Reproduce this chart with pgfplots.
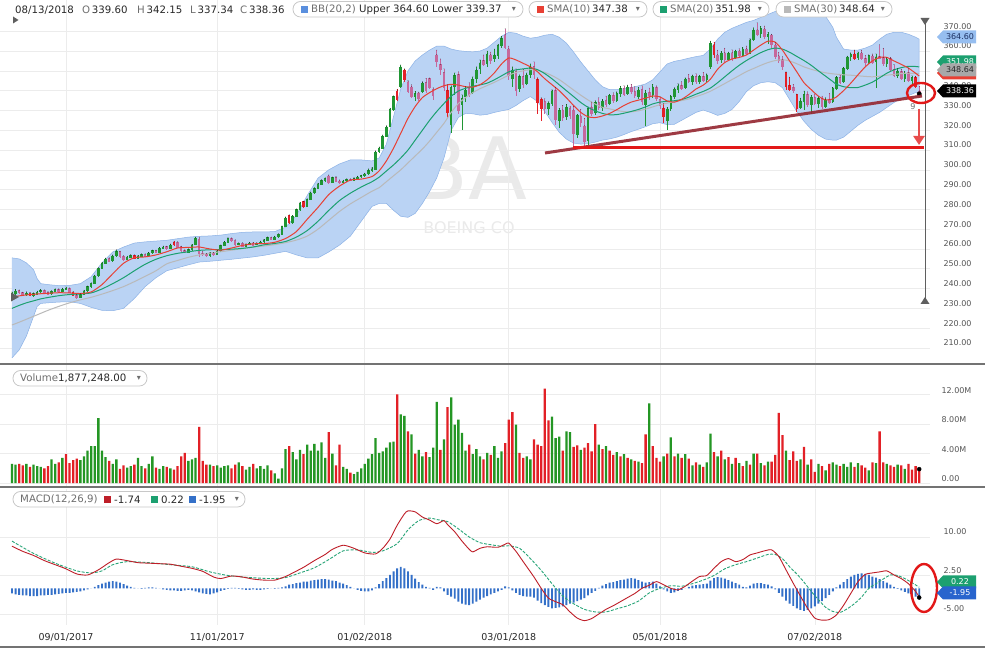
\documentclass[border=0pt]{standalone}
\usepackage{fontspec}
\setmainfont{DejaVu Sans}
\usepackage{pgfplots}
\pgfplotsset{compat=1.18}
\usepackage{pgfplotstable}
\usetikzlibrary{arrows.meta}

\definecolor{cgreen}{RGB}{32,150,52}
\definecolor{cpink}{RGB}{198,104,156}
\definecolor{cred}{RGB}{228,32,40}
\definecolor{vgreen}{RGB}{36,150,36}
\definecolor{vred}{RGB}{226,32,38}
\definecolor{bandfill}{RGB}{186,211,244}
\definecolor{bandedge}{RGB}{140,178,230}
\definecolor{smaA}{RGB}{232,64,52}
\definecolor{smaB}{RGB}{28,160,112}
\definecolor{smaC}{RGB}{185,185,185}
\definecolor{macdred}{RGB}{190,30,40}
\definecolor{macdsig}{RGB}{40,165,120}
\definecolor{histblue}{RGB}{52,112,200}
\definecolor{gridc}{RGB}{236,236,236}
\definecolor{tickc}{RGB}{85,85,85}
\definecolor{sepc}{RGB}{115,115,115}
\definecolor{labc}{RGB}{110,110,110}
\definecolor{valc}{RGB}{40,40,40}
\definecolor{pillb}{RGB}{200,200,200}
\definecolor{wmark}{RGB}{234,234,234}
\definecolor{annred}{RGB}{226,24,24}
\definecolor{arrred}{RGB}{232,76,76}
\definecolor{trend}{RGB}{150,42,52}
\definecolor{taggray}{RGB}{168,168,168}
\definecolor{tagblue}{RGB}{150,190,240}
\definecolor{tagbluetext}{RGB}{30,50,100}
\definecolor{macdblue}{RGB}{40,100,205}
\definecolor{bbsq}{RGB}{90,143,222}
\definecolor{markg}{RGB}{95,95,95}

\pgfplotstableread{
i o h l c k v vk hist
0 236.6 238.3 235.9 237.4 0 2.6 0 -1.0
1 237.5 239.6 237.0 238.6 0 2.5 0 -1.2
2 238.8 239.3 237.4 237.9 1 2.6 1 -1.3
3 237.8 238.2 236.2 236.8 1 2.4 1 -1.4
4 236.9 238.4 236.4 237.5 0 2.6 0 -1.4
5 237.6 238.0 236.0 236.6 2 2.2 1 -1.5
6 236.5 237.9 235.9 237.3 0 2.5 0 -1.5
7 237.2 238.7 236.8 238.2 0 2.3 0 -1.5
8 238.3 239.6 237.8 238.9 0 2.2 0 -1.4
9 239.0 239.3 237.6 238.0 1 2.0 1 -1.4
10 237.9 238.4 236.6 237.2 1 2.3 1 -1.3
11 237.3 239.0 236.9 238.5 0 3.2 0 -1.3
12 238.6 240.0 238.2 239.3 0 2.6 0 -1.2
13 239.4 239.9 238.2 238.7 1 2.8 1 -1.1
14 238.6 240.2 238.3 239.6 0 3.4 0 -1.0
15 239.7 240.8 239.1 239.9 0 3.9 1 -0.9
16 240.0 240.3 237.6 238.2 1 2.7 1 -0.9
17 238.1 238.5 236.0 236.6 2 3.1 1 -0.8
18 236.5 237.0 234.8 235.4 1 3.3 1 -0.7
19 235.5 237.4 235.1 236.9 0 3.1 0 -0.6
20 237.0 239.2 236.6 238.7 0 3.6 0 -0.4
21 238.8 241.3 238.4 240.8 0 4.4 0 -0.2
22 240.9 243.0 240.5 242.5 0 5.0 0 0.0
23 242.6 246.8 242.2 246.2 0 5.0 0 0.3
24 246.4 250.6 246.0 250.1 0 8.8 0 0.6
25 250.3 253.2 249.8 252.6 0 4.4 0 0.9
26 252.7 255.4 252.2 254.8 0 3.5 0 1.1
27 255.0 255.6 253.2 253.9 1 3.0 1 1.3
28 254.0 257.0 253.6 256.4 0 2.6 0 1.4
29 256.5 259.6 256.1 258.6 0 3.2 0 1.3
30 258.5 258.9 255.6 256.1 1 1.9 1 1.1
31 256.2 256.6 254.1 254.7 1 2.4 1 0.8
32 254.8 256.4 254.3 255.8 0 2.1 0 0.5
33 255.9 257.2 255.4 256.6 0 2.3 0 0.3
34 256.7 257.0 254.7 255.2 2 2.5 1 0.1
35 255.3 256.8 254.9 256.3 0 3.4 0 0.0
36 256.4 257.6 256.0 257.1 0 2.3 0 -0.1
37 257.2 257.5 255.9 256.4 1 2.0 1 0.1
38 256.5 258.3 256.1 257.9 0 2.6 0 0.2
39 258.0 259.5 257.6 259.0 0 3.6 0 0.2
40 259.1 259.4 257.8 258.2 1 2.1 1 0.1
41 258.3 260.8 258.0 260.3 0 1.9 0 0.0
42 260.4 261.5 259.8 261.0 0 2.3 0 -0.2
43 261.1 261.4 259.6 260.1 1 2.2 1 -0.3
44 260.2 262.5 259.9 262.0 0 2.0 0 -0.4
45 262.1 264.0 261.7 263.2 2 1.8 1 -0.4
46 263.3 263.6 260.6 261.0 1 2.3 1 -0.5
47 261.1 261.4 258.6 259.1 1 3.6 1 -0.5
48 259.0 259.6 257.8 258.3 1 4.1 1 -0.4
49 258.4 260.1 258.0 259.5 0 3.0 0 -0.3
50 259.6 262.3 259.2 261.8 0 3.2 0 -0.4
51 262.5 266.0 262.0 265.3 0 3.4 0 -0.6
52 264.8 266.0 256.2 257.6 1 7.6 1 -0.8
53 257.7 258.9 256.6 257.2 1 3.0 1 -1.0
54 257.3 257.8 255.8 256.5 1 2.5 1 -1.1
55 256.6 258.3 256.2 257.8 0 2.5 0 -1.2
56 257.9 258.2 256.6 257.1 1 2.3 1 -1.0
57 257.2 259.3 256.9 258.9 0 2.4 0 -0.8
58 259.0 262.1 258.7 261.6 0 2.1 0 -0.5
59 261.7 263.9 261.3 263.4 0 2.3 0 -0.3
60 263.5 265.7 263.1 265.1 0 2.4 0 -0.1
61 265.2 265.6 263.6 264.2 1 2.0 1 0.1
62 264.3 264.6 261.6 262.1 1 2.5 1 0.1
63 262.2 263.2 261.8 262.7 0 2.8 0 -0.1
64 262.8 263.1 260.9 261.4 1 2.3 1 -0.2
65 261.5 262.7 261.1 262.2 0 1.8 0 -0.3
66 262.3 263.4 261.9 262.9 0 2.2 0 -0.3
67 263.0 263.3 261.6 262.0 1 2.6 1 -0.2
68 262.1 263.2 261.8 262.8 0 2.0 0 -0.3
69 262.9 264.0 262.5 263.5 0 2.3 0 -0.3
70 263.6 264.8 263.2 264.3 0 1.9 0 -0.2
71 264.4 266.1 264.0 265.6 0 2.4 0 -0.1
72 265.7 266.0 264.4 264.9 1 1.7 1 0.0
73 265.0 266.5 264.6 266.0 0 1.3 0 -0.1
74 266.1 267.8 265.7 267.3 0 0.6 0 0.1
75 267.4 271.7 267.0 271.2 0 2.0 0 0.2
76 271.3 276.2 270.9 275.6 0 4.6 0 0.4
77 276.8 277.4 272.4 273.2 2 5.0 1 0.7
78 273.3 277.0 272.8 276.4 0 4.2 0 0.8
79 276.5 280.3 276.1 279.7 0 3.2 0 1.0
80 279.8 283.7 279.4 283.0 0 4.5 0 1.1
81 283.8 284.2 280.8 281.4 2 3.9 1 1.3
82 281.5 285.4 281.0 284.8 0 5.2 0 1.3
83 284.9 288.8 284.5 288.2 0 4.4 0 1.5
84 288.3 291.0 287.9 290.4 0 5.3 0 1.6
85 290.5 293.3 290.1 292.7 0 4.4 0 1.7
86 292.8 295.1 292.3 294.5 0 5.5 0 1.8
87 294.6 296.0 294.0 295.4 0 3.4 0 1.8
88 296.8 297.4 293.0 293.5 1 6.9 1 1.7
89 293.6 296.4 293.2 295.9 0 4.0 0 1.5
90 296.0 296.5 293.6 294.1 1 2.4 1 1.4
91 294.2 294.9 292.9 293.4 1 5.2 1 1.1
92 293.5 294.8 293.0 294.3 0 2.2 0 0.9
93 294.4 295.5 294.0 295.0 0 1.9 0 0.6
94 295.1 295.4 294.1 294.6 1 1.4 1 0.3
95 294.7 296.0 294.3 295.5 0 1.2 0 0.0
96 295.6 296.8 295.2 296.3 0 1.5 0 -0.3
97 296.4 297.3 296.0 296.9 0 2.0 0 -0.5
98 297.0 298.3 296.6 297.8 0 2.6 0 -0.6
99 297.9 300.5 297.5 299.6 0 3.3 0 -0.6
100 299.8 301.2 299.0 300.4 0 3.9 0 -0.4
101 300.4 309.6 300.0 309.0 0 6.1 0 0.2
102 309.2 311.6 308.4 310.9 0 4.1 0 0.8
103 311.0 317.6 310.6 316.8 0 4.3 0 1.4
104 317.0 322.3 316.4 321.6 0 4.8 0 2.0
105 322.0 331.2 321.6 330.4 0 5.5 0 2.6
106 330.6 337.4 329.8 336.8 0 5.6 0 3.3
107 339.8 340.6 334.6 335.6 2 12.0 1 3.9
108 342.0 353.0 341.2 351.8 0 9.3 0 4.2
109 350.4 351.0 344.6 345.6 2 9.1 0 3.9
110 344.2 345.0 338.6 339.8 1 7.0 1 3.3
111 341.8 343.0 336.4 337.2 1 6.6 0 2.6
112 337.0 339.6 334.6 338.4 0 4.0 1 1.9
113 338.6 339.2 335.0 336.0 1 4.5 0 1.2
114 339.5 344.6 338.8 343.8 0 3.6 0 0.7
115 344.0 346.2 339.0 340.2 1 4.2 1 0.3
116 346.0 346.4 340.6 341.4 1 3.5 0 0.1
117 340.6 341.5 335.2 337.4 1 4.8 0 -0.3
118 358.0 360.5 352.0 354.5 1 11.0 0 0.3
119 353.0 356.0 348.0 350.5 1 4.5 1 0.2
120 349.0 351.0 340.0 341.5 1 5.9 0 -0.6
121 340.0 343.0 326.0 329.0 2 10.3 1 -1.3
122 323.0 342.5 318.5 341.5 0 11.6 0 -1.6
123 342.0 349.0 338.0 347.5 0 7.9 0 -2.0
124 348.0 349.5 328.0 330.0 1 8.6 0 -2.6
125 333.0 338.0 320.0 336.0 0 6.8 0 -3.0
126 337.0 342.0 334.5 340.2 0 4.4 0 -3.2
127 341.0 344.0 337.0 338.2 1 5.2 1 -3.3
128 339.0 347.0 338.5 345.6 0 3.9 0 -3.0
129 346.0 352.0 344.0 350.3 0 4.6 0 -2.6
130 351.0 355.5 348.5 353.8 0 3.6 0 -2.2
131 355.0 358.0 352.5 353.0 1 3.2 1 -1.8
132 353.5 360.0 352.0 358.4 0 4.1 0 -1.5
133 358.0 359.5 353.5 355.2 1 3.8 1 -1.2
134 356.0 361.0 354.5 357.8 0 5.0 0 -0.9
135 358.0 363.5 356.2 362.7 0 3.4 0 -0.6
136 363.0 367.5 361.5 366.2 0 4.3 0 -0.3
137 368.0 371.3 360.8 362.0 1 5.4 1 0.4
138 361.0 362.5 345.5 347.8 1 8.6 1 0.2
139 346.0 352.0 342.0 350.4 0 9.6 1 -0.4
140 349.5 351.0 337.5 340.0 1 7.9 0 -0.9
141 341.0 348.0 339.5 346.9 0 4.1 1 -1.3
142 347.0 350.8 341.5 343.2 1 3.4 1 -1.5
143 343.5 349.0 342.6 347.9 0 3.6 0 -1.6
144 348.0 353.5 346.2 351.8 0 3.2 0 -1.6
145 352.0 354.5 346.0 348.4 1 5.9 1 -1.8
146 345.5 346.5 328.0 334.2 2 5.2 1 -2.4
147 331.0 336.5 324.5 335.5 2 5.0 1 -2.9
148 334.5 336.0 328.0 331.2 1 12.8 1 -3.3
149 331.0 334.5 327.5 333.4 0 8.5 1 -3.6
150 333.5 340.5 332.0 339.8 0 9.0 0 -3.9
151 340.0 341.5 322.5 325.4 1 6.1 0 -3.8
152 325.0 331.0 321.0 329.8 0 6.3 0 -3.7
153 330.0 332.5 324.5 326.3 1 4.4 1 -3.5
154 327.0 333.0 325.0 331.5 0 7.0 0 -3.3
155 331.0 332.2 325.8 327.6 1 6.9 0 -3.0
156 330.0 332.0 311.5 318.2 1 4.9 1 -2.8
157 318.0 328.0 316.0 327.5 0 5.1 1 -2.5
158 327.0 330.5 321.5 323.8 1 4.5 0 -2.2
159 322.0 326.0 311.2 314.5 1 4.8 1 -1.9
160 315.0 331.8 312.5 330.8 0 5.4 1 -1.4
161 331.5 334.2 327.0 328.4 1 4.3 1 -0.9
162 329.0 335.0 327.8 333.8 0 8.0 1 -0.5
163 334.0 336.5 330.4 331.5 1 5.2 0 0.1
164 331.5 335.6 329.5 334.7 0 4.6 1 0.5
165 335.0 337.2 331.8 333.2 1 5.0 0 0.8
166 333.5 338.2 332.5 337.5 0 4.4 1 1.1
167 337.5 339.0 333.6 335.0 1 3.8 1 1.2
168 335.0 339.5 334.2 338.6 0 4.2 0 1.4
169 338.5 342.2 336.8 340.9 0 3.6 1 1.6
170 341.0 342.5 337.5 338.2 1 3.9 0 1.7
171 338.5 342.8 337.6 341.7 0 3.4 1 1.9
172 341.5 343.2 338.4 339.5 1 3.2 0 2.0
173 339.5 342.0 336.2 337.4 1 3.0 1 1.9
174 337.0 341.6 335.8 340.2 0 2.9 0 1.6
175 340.5 342.5 332.5 334.5 1 2.7 1 1.3
176 333.0 340.2 322.0 338.8 0 6.6 1 1.1
177 339.0 341.3 335.5 337.3 1 10.8 0 1.2
178 338.0 343.2 336.5 341.7 0 5.0 1 1.3
179 341.5 342.4 334.8 336.0 1 3.4 1 0.9
180 335.5 337.0 330.5 332.4 1 2.9 1 0.4
181 331.0 333.5 323.5 326.8 2 3.6 0 -0.2
182 325.0 331.5 320.2 330.6 0 4.0 1 -0.6
183 331.0 337.6 329.8 336.9 0 6.2 0 -0.9
184 337.0 341.5 335.6 340.8 0 3.6 1 -0.8
185 340.5 343.5 338.8 342.3 0 4.0 0 -0.5
186 342.5 344.6 340.2 341.2 1 3.4 1 -0.3
187 341.5 346.5 340.8 345.8 0 3.9 0 0.0
188 346.0 348.2 343.8 344.4 1 3.3 1 0.3
189 344.5 347.9 342.6 347.2 0 2.4 0 0.5
190 347.0 348.6 343.5 344.6 1 2.8 1 0.6
191 344.5 347.8 343.2 346.9 0 2.5 0 0.7
192 347.0 349.2 344.5 345.3 1 2.2 1 0.8
193 345.5 348.6 344.2 347.8 0 2.8 0 0.9
194 352.0 365.0 351.0 363.8 0 6.7 0 1.5
195 363.0 364.5 356.5 358.2 2 4.2 1 2.0
196 358.0 360.4 353.6 355.0 1 3.6 0 2.2
197 355.5 359.8 354.2 358.9 0 4.4 1 2.1
198 359.0 361.4 354.6 355.6 1 3.2 0 1.9
199 355.5 359.5 354.8 358.8 0 3.5 1 1.6
200 359.0 360.6 355.2 356.4 1 2.6 0 1.3
201 356.5 360.5 355.8 359.8 0 3.4 1 1.0
202 360.0 361.2 356.5 357.6 1 2.7 0 0.7
203 357.5 361.8 356.8 360.9 0 2.3 1 0.3
204 361.0 362.5 357.8 358.6 1 3.0 0 0.2
205 359.0 366.2 358.5 365.5 0 2.5 1 0.5
206 366.0 371.8 365.2 370.4 0 4.0 0 0.9
207 370.5 374.3 367.5 368.4 1 4.0 1 1.0
208 368.8 372.5 366.8 371.2 0 2.7 0 1.0
209 371.0 372.6 366.2 367.1 1 2.4 1 0.8
210 367.5 369.4 363.8 368.3 0 2.9 0 0.7
211 368.0 368.5 361.5 363.2 1 2.9 1 0.4
212 363.0 364.2 355.8 357.4 1 3.8 1 -0.2
213 357.5 359.4 353.8 355.1 1 9.5 1 -0.9
214 355.5 357.2 350.6 352.3 1 6.5 1 -1.6
215 349.0 349.5 340.2 342.0 2 4.4 0 -2.4
216 342.5 346.8 339.8 340.8 2 3.1 1 -3.0
217 341.5 343.2 338.8 340.0 1 4.3 1 -3.4
218 338.0 338.2 329.2 331.0 2 3.0 1 -3.9
219 331.5 336.2 330.6 334.6 0 3.2 0 -4.2
220 334.5 339.8 330.0 337.9 0 4.9 1 -4.4
221 338.0 339.4 331.8 332.8 1 2.5 0 -4.2
222 333.0 337.6 328.2 336.5 0 3.2 1 -3.9
223 336.5 338.3 332.5 333.6 1 1.5 1 -3.5
224 333.5 336.8 331.4 335.8 0 2.6 0 -3.0
225 336.0 337.2 330.8 332.1 1 2.3 1 -2.5
226 332.0 336.5 331.2 335.2 0 1.7 0 -1.9
227 335.5 338.6 333.2 334.0 1 2.6 1 -1.3
228 334.5 341.6 333.8 341.2 0 2.8 0 -0.6
229 341.0 347.2 340.5 346.5 0 2.5 0 0.2
230 346.5 347.8 343.2 344.3 1 2.3 1 0.7
231 344.5 351.8 344.0 351.2 0 2.6 0 1.2
232 351.0 357.4 350.5 356.8 0 2.2 0 1.8
233 357.0 359.2 355.2 358.3 0 2.8 0 2.3
234 358.5 360.5 355.6 356.2 2 2.2 1 2.6
235 356.5 359.6 355.5 358.8 0 2.7 0 2.8
236 359.0 360.4 355.3 356.0 1 2.4 1 2.9
237 356.0 357.8 352.6 354.1 1 2.1 1 2.8
238 354.0 358.2 353.3 357.6 0 1.7 0 2.6
239 357.5 358.5 353.4 354.3 1 2.8 1 2.3
240 354.5 358.6 341.2 356.8 0 2.7 0 2.1
241 357.0 363.2 355.8 356.4 1 7.0 1 1.8
242 356.5 361.4 352.2 353.6 1 2.8 1 1.4
243 353.5 356.8 351.8 355.9 0 2.6 0 1.1
244 356.0 356.8 349.6 350.8 1 2.4 1 0.7
245 350.5 353.2 346.8 347.6 1 2.2 1 0.3
246 347.5 351.2 346.4 349.8 0 2.5 0 -0.1
247 349.5 350.8 345.2 346.1 1 2.4 1 -0.4
248 346.0 349.8 344.6 348.7 0 1.9 0 -0.7
249 349.0 351.4 344.5 345.2 1 2.6 1 -1.0
250 345.0 347.6 343.4 346.5 0 1.8 1 -1.3
251 346.5 347.2 341.4 342.3 2 2.3 1 -1.6
252 339.6 342.15 337.34 338.36 1 1.88 1 -1.95
}\data

\pgfplotstableread{
i s10 s20 s30
0 235.8 230.0 221.6
2 236.3 231.5 223.0
4 236.8 232.8 224.5
6 237.1 233.8 226.0
8 237.4 234.8 227.5
10 237.6 235.5 229.0
13 237.9 236.4 231.0
16 237.8 237.0 232.8
19 237.5 237.3 234.3
22 238.3 237.8 235.6
25 242.0 239.8 237.2
28 247.5 242.5 239.0
31 252.8 245.5 241.0
34 255.6 249.0 243.5
37 256.0 252.3 246.2
40 257.0 254.8 249.0
43 258.6 256.6 252.5
46 260.5 257.8 254.2
49 260.8 258.6 255.8
52 261.0 259.3 257.0
55 260.0 259.6 257.9
58 259.4 259.7 258.6
61 260.5 259.9 259.4
64 261.8 260.3 260.2
67 262.6 261.0 261.0
70 262.7 262.1 261.5
73 263.4 262.8 262.2
76 265.3 263.8 263.2
79 268.8 266.0 264.5
82 275.0 269.3 266.5
85 281.0 274.0 270.0
88 287.5 279.5 274.5
91 291.8 284.5 279.0
94 294.8 288.2 282.8
97 295.3 291.3 286.0
100 296.6 294.0 289.2
102 299.5 296.3 291.0
104 304.5 299.4 294.0
106 311.0 302.5 297.0
108 318.5 306.0 300.0
110 326.0 310.0 303.5
112 332.0 315.0 307.0
114 336.5 320.0 310.5
116 339.0 325.0 314.5
118 341.0 329.5 319.0
120 342.5 333.5 323.5
122 343.2 337.2 329.0
124 342.8 339.8 333.5
126 342.0 341.2 336.5
128 341.8 342.2 339.0
130 343.0 342.9 341.0
132 345.5 343.8 342.6
134 349.0 345.5 344.2
136 353.5 347.5 346.0
138 356.5 349.5 347.8
140 355.5 350.5 349.2
142 353.8 351.0 350.0
144 352.0 351.4 350.6
146 349.5 350.6 350.2
148 346.0 348.6 349.2
150 343.0 346.0 347.6
152 340.0 343.0 345.6
154 336.4 340.0 343.0
156 332.5 337.0 340.3
158 329.0 334.0 337.7
160 326.8 331.6 335.3
162 326.4 329.8 333.2
164 327.2 328.5 331.6
166 328.5 327.8 330.8
168 330.4 327.9 330.0
170 332.5 328.6 329.4
172 334.2 329.5 329.3
174 335.2 330.5 329.8
176 336.2 331.8 330.7
178 337.3 333.3 331.8
180 336.8 334.2 332.9
182 334.8 334.6 333.7
184 334.2 334.9 334.4
186 335.6 335.5 335.0
188 338.0 336.7 335.8
190 340.8 338.2 337.0
192 342.8 339.6 338.2
194 345.8 341.3 339.7
196 350.8 344.0 341.6
198 354.2 347.0 343.6
200 356.0 350.0 345.6
202 356.8 352.8 347.6
204 358.0 355.2 349.6
206 360.5 357.3 351.2
208 363.0 359.2 352.8
210 365.0 360.7 354.2
212 364.5 361.5 355.2
214 360.5 361.0 355.6
216 355.0 359.4 355.0
218 349.5 357.3 353.6
220 344.0 355.2 352.0
222 340.5 352.8 350.8
224 337.2 350.0 349.8
226 335.3 347.3 349.0
228 335.8 344.6 348.5
229 336.8 343.2 348.3
231 340.0 342.0 348.0
233 343.8 341.5 347.8
235 348.0 341.6 347.5
237 352.0 342.8 347.2
239 355.0 344.3 347.0
241 356.8 346.5 347.3
243 356.8 348.8 347.8
245 355.0 350.5 348.2
247 353.3 351.6 348.6
249 351.4 352.3 348.8
251 348.8 352.2 348.7
252 347.38 351.98 348.64
}\ma

% Bollinger band outline: upper edge left to right, then lower edge right to left
\pgfplotstableread{
i b
0 255.5
2 255.0
4 253.0
6 249.5
7 245.0
8 242.5
10 242.0
13 241.5
16 241.6
19 242.5
22 246.0
25 253.0
28 258.5
31 261.0
34 263.0
37 263.6
40 264.0
43 264.4
46 265.2
49 266.0
52 266.4
55 266.6
58 267.0
61 267.8
64 268.4
67 268.6
70 268.6
73 268.8
76 271.0
79 277.0
82 287.0
85 295.8
88 300.0
91 303.0
94 305.0
97 305.0
100 304.5
102 306.0
104 313.0
106 327.0
108 341.0
110 350.0
112 355.0
114 358.0
116 360.5
118 362.5
120 362.5
122 361.0
124 360.2
126 359.8
128 359.6
130 360.0
132 361.5
134 364.5
136 367.5
138 369.5
140 369.0
142 367.5
144 366.5
146 367.0
148 368.0
150 368.5
152 367.0
154 364.0
156 359.5
158 354.5
160 350.0
162 345.5
164 342.0
166 340.5
168 340.5
170 341.0
172 341.6
174 342.4
176 343.4
178 345.5
180 349.5
182 353.5
184 354.8
186 355.5
188 356.4
190 357.2
192 357.8
194 361.0
196 366.0
198 369.5
200 371.5
202 373.0
204 374.5
206 375.5
208 377.0
210 378.5
212 380.0
214 381.0
216 381.5
218 381.5
220 381.5
222 381.0
224 380.0
226 377.5
228 372.0
229 367.0
231 361.0
233 360.5
235 360.5
237 361.5
239 363.0
241 366.0
243 368.5
245 369.5
247 369.5
249 368.5
251 367.0
252 366.0
252 339.37
251 339.0
249 337.5
247 336.0
245 334.0
243 331.5
241 329.0
239 327.0
237 325.0
235 322.5
233 319.5
231 316.5
229 315.0
228 315.0
226 315.5
224 317.5
222 320.5
220 324.5
218 329.5
216 335.5
214 341.5
212 344.0
210 344.5
208 344.0
206 342.5
204 339.5
202 334.5
200 330.5
198 328.5
196 327.5
194 329.0
192 330.2
190 329.0
188 327.0
186 325.0
184 323.0
182 322.8
180 323.8
178 323.3
176 321.8
174 320.5
172 319.3
170 317.8
168 316.5
166 315.6
164 315.0
162 314.0
160 313.2
158 313.0
156 313.5
154 315.5
152 319.0
150 324.0
148 329.5
146 334.5
144 337.0
142 335.0
140 332.5
138 330.5
136 329.8
134 329.0
132 328.0
130 327.6
128 328.3
126 328.5
124 326.5
122 320.0
120 306.0
118 296.0
116 289.0
114 283.0
112 278.0
110 276.0
108 276.5
106 279.5
104 283.0
102 283.0
100 281.5
97 274.0
94 266.5
91 262.0
88 258.5
85 255.5
82 255.5
79 257.0
76 258.8
73 257.8
70 256.8
67 256.0
64 255.4
61 254.8
58 254.3
55 253.8
52 253.4
49 252.0
46 250.5
43 249.0
40 245.5
37 241.0
34 235.0
31 230.0
28 228.8
25 229.0
22 230.5
19 232.5
16 233.3
13 233.2
10 232.8
8 232.5
7 231.0
6 226.0
4 216.0
2 209.0
0 205.0
}\band

\pgfplotstableread{
i m
0 8.2
3 7.2
6 6.4
9 5.4
12 4.6
15 3.8
18 2.8
21 2.6
24 3.6
27 5.0
29 5.7
32 5.4
35 5.0
38 4.9
41 4.8
44 4.7
47 4.3
50 3.9
53 3.3
56 2.2
58 1.9
61 2.4
64 2.2
67 1.8
70 1.6
73 1.6
76 2.3
78 3.0
81 4.1
84 5.4
87 6.6
89 7.6
92 8.4
95 7.8
98 6.9
101 6.7
103 7.8
105 9.6
107 12.3
109 14.5
110 15.1
112 14.9
114 13.9
116 13.3
118 12.6
120 13.2
121 12.4
123 11.0
125 9.2
127 7.6
128 7.1
130 7.8
132 8.1
135 8.0
137 8.6
138 8.8
140 7.2
142 5.2
145 2.2
147 0.0
149 -1.9
151 -2.6
153 -3.2
155 -4.6
157 -5.8
159 -6.3
161 -5.9
163 -5.0
165 -4.1
167 -3.4
169 -2.6
171 -1.8
173 -1.0
175 0.0
177 0.6
179 1.3
181 0.7
183 0.0
185 -0.3
187 0.4
189 1.4
191 2.3
193 2.5
195 3.9
197 5.2
199 5.8
201 5.2
203 5.6
205 6.5
207 6.9
209 7.3
211 7.5
213 6.2
215 3.6
217 1.0
219 -1.5
221 -3.9
223 -5.8
225 -6.2
227 -6.1
229 -5.2
231 -3.3
233 -1.0
235 1.3
237 2.7
239 3.0
241 3.2
243 3.4
245 2.6
247 1.9
249 0.9
251 -0.6
252 -1.74
}\macd

\pgfplotstableread{
i s
0 9.2
6 6.8
12 4.9
18 3.4
22 3.0
25 3.4
28 4.6
32 5.2
38 5.0
44 4.6
50 4.2
55 3.2
60 2.5
66 2.1
72 1.9
76 2.1
80 3.0
84 4.0
88 5.6
92 7.3
96 7.5
100 7.0
103 7.3
107 8.7
110 11.4
113 13.2
116 13.7
118 13.4
121 13.0
124 11.6
127 10.0
130 8.9
133 8.5
136 8.2
138 8.3
141 7.8
144 5.8
147 3.5
150 0.9
153 -1.5
156 -3.0
159 -4.1
162 -4.6
165 -4.6
168 -4.0
171 -3.4
174 -2.5
177 -0.9
180 0.0
183 0.5
186 0.4
189 0.9
192 1.6
195 2.5
198 3.8
201 4.6
204 5.2
207 5.9
210 6.6
212 6.6
214 5.8
216 4.2
218 2.8
220 1.2
222 -0.6
224 -2.2
226 -3.7
228 -4.5
230 -4.7
232 -4.0
234 -3.0
236 -1.7
238 0.0
240 0.9
242 1.8
244 2.6
246 2.5
248 1.9
250 1.1
252 0.22
}\sig

\newcommand{\candles}[3]{% #1 lo, #2 hi of k-range, #3 colour
  \addplot[only marks, mark options={draw=none, fill=none}, mark size=0.01pt, forget plot,
    restrict expr to domain={\thisrow{k}}{#1:#2},
    error bars/.cd, y dir=minus, y explicit, error mark=none,
    error bar style={draw=#3, line width=0.7pt}]
    table[x=i, y=h, y error minus expr={\thisrow{h}-\thisrow{l}}]{\data};
  \addplot[only marks, mark options={draw=none, fill=none}, mark size=0.01pt, forget plot,
    restrict expr to domain={\thisrow{k}}{#1:#2},
    error bars/.cd, y dir=minus, y explicit, error mark=none,
    error bar style={draw=#3, line width=2.6pt}]
    table[x=i, y expr={max(\thisrow{o},\thisrow{c})+0.25},
          y error minus expr={abs(\thisrow{o}-\thisrow{c})+0.5}]{\data};
}

\newcommand{\tagbox}[4]{% yc, fill, textcolor, text
  \fill[#2] (937,#1) -- (943,#1+6.5) -- (976,#1+6.5) -- (976,#1-6.5) -- (943,#1-6.5) -- cycle;
  \node[text=#3, font=\fontsize{8}{9}\selectfont, inner sep=0pt] at (960,#1) {#4};
}

\newcommand{\pf}{\fontsize{10.2}{12}\selectfont}

\begin{document}
\begin{tikzpicture}[x=1pt, y=1pt]
\fill[white] (0,0) rectangle (989,650);

% watermark
\node[text=wmark, font=\fontsize{86}{90}\selectfont] at (468,482) {BA};
\node[text=wmark, font=\fontsize{16}{18}\selectfont] at (469,422) {BOEING CO};

% ---------- price panel ----------
\begin{axis}[
  at={(0pt,287pt)}, anchor=south west, scale only axis,
  width=930pt, height=363pt,
  xmin=-3.33, xmax=255, ymin=202.4, ymax=385.8,
  axis line style={draw=none}, tick style={draw=none},
  xtick={15,57,98,138,180,223}, xticklabels={},
  ytick={210,220,...,370},
  yticklabel pos=right,
  yticklabel style={font=\fontsize{8}{9}\selectfont, text=tickc, anchor=west,
    xshift=10pt, yshift=5pt,
    /pgf/number format/fixed, /pgf/number format/fixed zerofill,
    /pgf/number format/precision=2, /pgf/number format/assume math mode=true},
  grid=major, major grid style={gridc, line width=0.6pt},
]
\addplot[fill=bandfill, draw=bandedge, line width=0.5pt, forget plot] table[x=i, y=b]{\band};
\candles{-0.5}{0.5}{cgreen}
\candles{0.5}{1.5}{cpink}
\candles{1.5}{2.5}{cred}
\addplot[smaC, line width=1pt, smooth, tension=0.4] table[x=i, y=s30]{\ma};
\addplot[smaB, line width=1pt, smooth, tension=0.4] table[x=i, y=s20]{\ma};
\addplot[smaA, line width=1pt, smooth, tension=0.4] table[x=i, y=s10]{\ma};
\addplot[only marks, mark=*, mark size=2.2pt, black] coordinates {(252,338.36)};
\end{axis}

% ---------- volume panel ----------
\begin{axis}[
  at={(0pt,163pt)}, anchor=south west, scale only axis,
  width=930pt, height=122pt,
  xmin=-3.33, xmax=255, ymin=-0.54, ymax=16.0,
  axis line style={draw=none}, tick style={draw=none},
  xtick={15,57,98,138,180,223}, xticklabels={},
  ytick={0,4,8,12}, yticklabels={0.00,4.00M,8.00M,12.00M},
  yticklabel pos=right,
  yticklabel style={font=\fontsize{8}{9}\selectfont, text=tickc, anchor=west, xshift=8pt, yshift=4pt},
  grid=major, major grid style={gridc, line width=0.6pt},
]
\addplot[ybar, bar width=2.3pt, bar shift=0pt, fill=vgreen, draw=none,
  restrict expr to domain={\thisrow{vk}}{-0.5:0.5}] table[x=i, y=v]{\data};
\addplot[ybar, bar width=2.3pt, bar shift=0pt, fill=vred, draw=none,
  restrict expr to domain={\thisrow{vk}}{0.5:1.5}] table[x=i, y=v]{\data};
\addplot[only marks, mark=*, mark size=2pt, black] coordinates {(252,1.88)};
\end{axis}

% ---------- MACD panel ----------
\begin{axis}[
  at={(0pt,25pt)}, anchor=south west, scale only axis,
  width=930pt, height=136pt,
  xmin=-3.33, xmax=255, ymin=-7.15, ymax=19.36,
  axis line style={draw=none}, tick style={draw=none},
  xtick={15,57,98,138,180,223},
  xticklabels={09/01/2017,11/01/2017,01/02/2018,03/01/2018,05/01/2018,07/02/2018},
  xticklabel style={font=\fontsize{9.5}{11}\selectfont, text=valc, yshift=-5pt},
  ytick={-5,2.5,10}, yticklabels={-5.00,2.50,10.00},
  yticklabel pos=right,
  yticklabel style={font=\fontsize{8}{9}\selectfont, text=tickc, anchor=west, xshift=10pt, yshift=5pt},
  grid=major, major grid style={gridc, line width=0.6pt},
]
\addplot[ybar, bar width=1.9pt, bar shift=0pt, fill=histblue, draw=none] table[x=i, y=hist]{\data};
\addplot[macdsig, line width=0.9pt, dash pattern=on 3pt off 1.5pt, smooth, tension=0.4] table[x=i, y=s]{\sig};
\addplot[macdred, line width=0.9pt, smooth, tension=0.4] table[x=i, y=m]{\macd};
\addplot[only marks, mark=*, mark size=2pt, black] coordinates {(252,-1.8)};
\end{axis}

% separators
\draw[sepc, line width=2pt] (0,286) -- (985,286);
\draw[sepc, line width=2pt] (0,162.5) -- (985,162.5);
\draw[sepc, line width=2pt] (0,3) -- (985,3);

% range marker
\draw[markg, line width=1pt] (925,348) -- (925,630);
\fill[markg] (920.5,632) -- (929.5,632) -- (925,625) -- cycle;
\fill[markg] (920.5,346) -- (929.5,346) -- (925,353) -- cycle;
% small triangles
\fill[markg] (13,626.5) -- (13,633.5) -- (18.5,630) -- cycle;
\fill[markg] (11,348.5) -- (11,357.5) -- (19,353) -- cycle;

% annotations
\draw[trend, line width=3pt, opacity=0.92] (545,497) -- (922,554);
\draw[annred, line width=3pt] (573,502) -- (924,502);
\draw[arrred, line width=2.6pt, -{Triangle[width=11pt,length=9pt]}] (919,541) -- (919,505);
\draw[annred, line width=2.4pt] (921,557) ellipse [x radius=14, y radius=10];
\draw[annred, line width=2.4pt] (924,62) ellipse [x radius=13, y radius=24];
\node[text=labc, font=\fontsize{8}{9}\selectfont] at (913,543) {9};

% value tags
\tagbox{577}{smaA}{white}{347.38}
\tagbox{588}{smaB}{white}{351.98}
\tagbox{580}{taggray}{valc}{348.64}
\tagbox{613}{tagblue}{tagbluetext}{364.60}
\tagbox{559}{black}{white}{338.36}
\tagbox{68}{smaB}{white}{0.22}
\tagbox{57}{macdblue}{white}{-1.95}

% header
\node[anchor=west, inner sep=0, text=valc, font=\pf] at (15,640) {08/13/2018};
\node[anchor=west, inner sep=0, font=\pf] at (82,640) {\textcolor{labc}{O}\,\textcolor{valc}{339.60}};
\node[anchor=west, inner sep=0, font=\pf] at (137,640) {\textcolor{labc}{H}\,\textcolor{valc}{342.15}};
\node[anchor=west, inner sep=0, font=\pf] at (190,640) {\textcolor{labc}{L}\,\textcolor{valc}{337.34}};
\node[anchor=west, inner sep=0, font=\pf] at (240,640) {\textcolor{labc}{C}\,\textcolor{valc}{338.36}};

% pills
\draw[pillb, fill=white, line width=0.8pt, rounded corners=7.5pt] (293,633) rectangle (523,648.5);
\fill[bbsq] (301,637) rectangle (308,644);
\node[anchor=west, inner sep=0, font=\pf] at (311,640.5) {\textcolor{labc}{BB(20,2)} \textcolor{valc}{Upper 364.60 Lower 339.37}};
\node[text=labc, font=\fontsize{8}{9}\selectfont, inner sep=0] at (514,640.5) {▾};

\draw[pillb, fill=white, line width=0.8pt, rounded corners=7.5pt] (529,633) rectangle (647,648.5);
\fill[smaA] (537,637) rectangle (544,644);
\node[anchor=west, inner sep=0, font=\pf] at (547,640.5) {\textcolor{labc}{SMA(10)}\,\textcolor{valc}{347.38}};
\node[text=labc, font=\fontsize{8}{9}\selectfont, inner sep=0] at (638,640.5) {▾};

\draw[pillb, fill=white, line width=0.8pt, rounded corners=7.5pt] (653,633) rectangle (769,648.5);
\fill[smaB] (660,637) rectangle (667,644);
\node[anchor=west, inner sep=0, font=\pf] at (670,640.5) {\textcolor{labc}{SMA(20)}\,\textcolor{valc}{351.98}};
\node[text=labc, font=\fontsize{8}{9}\selectfont, inner sep=0] at (760,640.5) {▾};

\draw[pillb, fill=white, line width=0.8pt, rounded corners=7.5pt] (776,633) rectangle (892,648.5);
\fill[smaC] (784,637) rectangle (791,644);
\node[anchor=west, inner sep=0, font=\pf] at (794,640.5) {\textcolor{labc}{SMA(30)}\,\textcolor{valc}{348.64}};
\node[text=labc, font=\fontsize{8}{9}\selectfont, inner sep=0] at (883,640.5) {▾};

\draw[pillb, fill=white, line width=0.8pt, rounded corners=7.5pt] (13,264) rectangle (147,279.5);
\node[anchor=west, inner sep=0, font=\pf] at (20,271.5) {\textcolor{labc}{Volume}\textcolor{valc}{1,877,248.00}};
\node[text=labc, font=\fontsize{8}{9}\selectfont, inner sep=0] at (139,271.5) {▾};

\draw[pillb, fill=white, line width=0.8pt, rounded corners=7.5pt] (13,143) rectangle (245,158.5);
\node[anchor=west, inner sep=0, font=\pf] at (20,150.5) {\textcolor{labc}{MACD(12,26,9)}};
\fill[macdred] (104,147) rectangle (111,154);
\node[anchor=west, inner sep=0, font=\pf, text=valc] at (114,150.5) {-1.74};
\fill[smaB] (151,147) rectangle (158,154);
\node[anchor=west, inner sep=0, font=\pf, text=valc] at (161,150.5) {0.22};
\fill[histblue] (189,147) rectangle (196,154);
\node[anchor=west, inner sep=0, font=\pf, text=valc] at (199,150.5) {-1.95};
\node[text=labc, font=\fontsize{8}{9}\selectfont, inner sep=0] at (237,150.5) {▾};

\pgfresetboundingbox
\path[use as bounding box] (0,0) rectangle (989,650);
\end{tikzpicture}
\end{document}
